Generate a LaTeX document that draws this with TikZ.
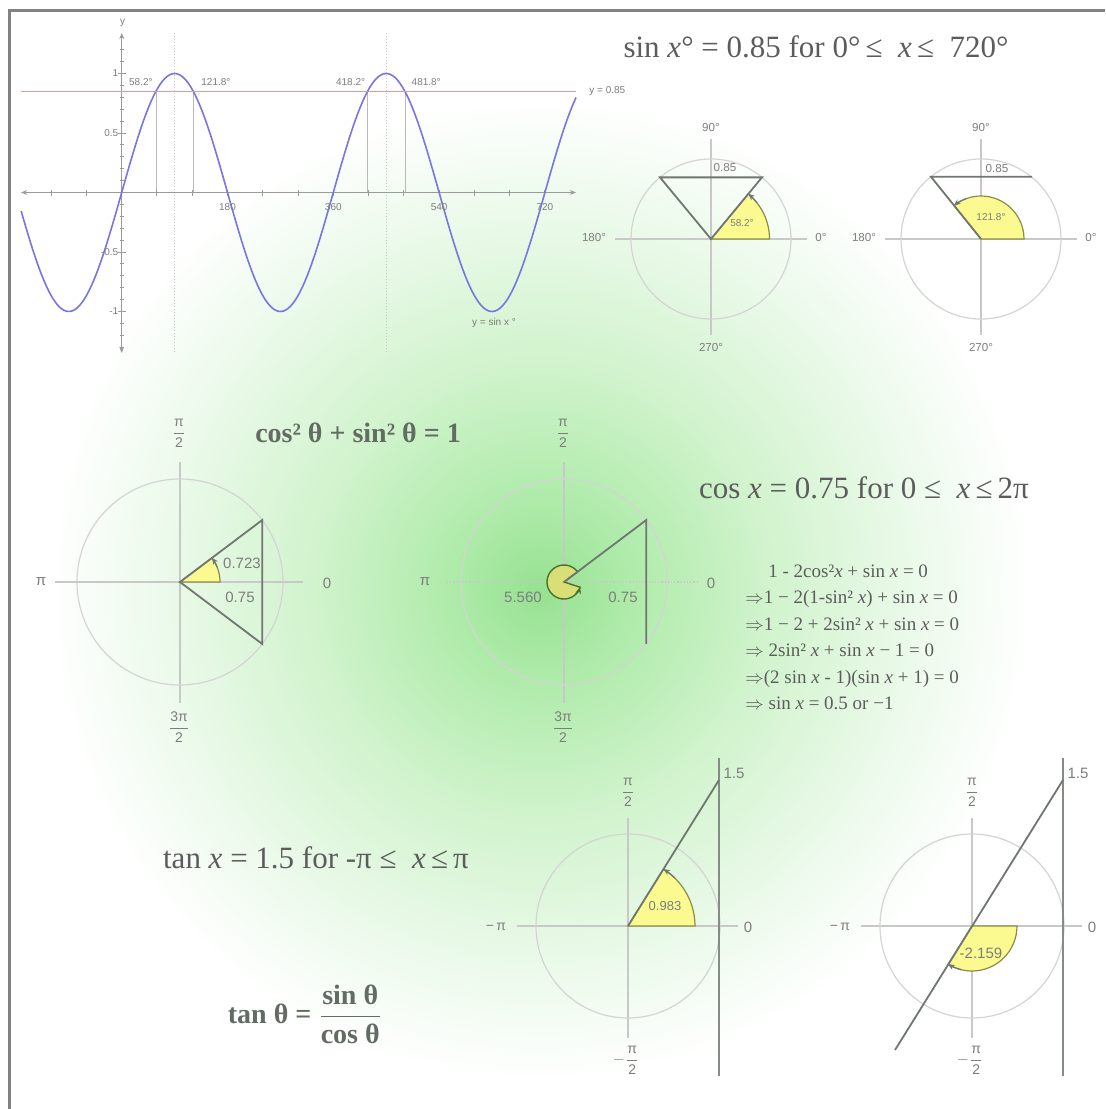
\documentclass[tikz,border=0pt]{standalone}
\usepackage{amsmath}
\usepackage{fontspec}
\setmainfont{Liberation Serif}
\newfontfamily\labelfont{Liberation Sans}
\usetikzlibrary{arrows.meta,calc}

\definecolor{ringgray}{RGB}{212,212,212}
\definecolor{axisgray}{RGB}{200,200,200}
\definecolor{graphgray}{RGB}{155,155,155}
\definecolor{leggray}{RGB}{112,118,112}
\definecolor{labelgray}{RGB}{125,125,125}
\definecolor{sectorfill}{RGB}{250,250,145}
\definecolor{sectoredge}{RGB}{140,140,70}
\definecolor{olivefill}{RGB}{218,222,118}
\definecolor{oliveedge}{RGB}{75,115,40}
\definecolor{sineblue}{RGB}{118,118,228}
\definecolor{linered}{RGB}{236,150,150}
\definecolor{textgray}{RGB}{92,92,92}
\definecolor{boldgray}{RGB}{98,108,98}
\definecolor{framegray}{RGB}{130,130,130}
\definecolor{glowA}{RGB}{150,225,145}
\definecolor{glowB}{RGB}{175,235,170}
\definecolor{glowC}{RGB}{208,243,204}
\definecolor{glowD}{RGB}{236,250,235}

\pgfdeclareradialshading{glow}{\pgfpoint{0bp}{0bp}}{%
  color(0bp)=(glowA); color(4bp)=(glowB); color(10bp)=(glowC);
  color(17bp)=(glowD); color(22bp)=(white); color(50bp)=(white)}

\begin{document}
\begin{tikzpicture}[x=0.5pt, y=0.5pt,
  ring/.style={draw=ringgray, line width=0.6pt},
  ringaxis/.style={draw=axisgray, line width=0.6pt},
  gaxis/.style={draw=graphgray, line width=0.5pt},
  guide/.style={draw=axisgray, line width=0.5pt, densely dotted},
  drop/.style={draw=graphgray!70, line width=0.4pt},
  leg/.style={draw=leggray, line width=0.9pt},
  sector/.style={fill=sectorfill, draw=sectoredge, line width=0.6pt},
  sectortip/.style={-{Stealth[length=3.2pt,width=2.8pt]}, draw=leggray, line width=0.6pt},
  glbl/.style={font=\labelfont\fontsize{5}{6}\selectfont, text=labelgray, inner sep=0pt},
  dlbl/.style={font=\labelfont\fontsize{5.8}{7}\selectfont, text=labelgray, inner sep=0pt},
  slbl/.style={font=\labelfont\fontsize{5}{6}\selectfont, text=labelgray, inner sep=0pt},
  rlbl/.style={font=\labelfont\fontsize{7.5}{9}\selectfont, text=labelgray, inner sep=0pt},
  flbl/.style={font=\labelfont\fontsize{7}{8}\selectfont, text=labelgray, inner sep=0pt},
  bigeq/.style={font=\fontsize{15.5}{18}\selectfont, text=textgray, inner sep=0pt},
  boldeq/.style={font=\bfseries\fontsize{14}{17}\selectfont, text=boldgray, inner sep=0pt},
  stepeq/.style={font=\fontsize{9.5}{13.25}\selectfont, text=textgray, inner sep=0pt, align=left}]

% Canvas and green glow
\useasboundingbox (0,0) rectangle (1105,-1109);
\fill[white] (0,0) rectangle (1105,-1109);
\begin{scope}
  \clip (0,0) rectangle (1105,-1109);
  \shade[shading=glow] (540,-590) circle (560);
\end{scope}
% Frame, top and left edges
\draw[framegray, line width=1.4pt] (9.5,-1109) -- (9.5,-10.5) -- (1105,-10.5);

% Sine graph
\coordinate (O) at (121.7,-192.5);
\begin{scope}[shift={(O)}]
  \foreach \t in {90,450}
    \draw[guide] ({\t*0.5878},159.5) -- ({\t*0.5878},-160.5);
  \foreach \t in {58.2,121.8,418.2,481.8}
    \draw[drop] ({\t*0.5878},0) -- ({\t*0.5878},101.2);
  \draw[gaxis, {Stealth[length=3pt,width=2.4pt]}-{Stealth[length=3pt,width=2.4pt]}] (-100.7,0) -- (454.3,0);
  \draw[gaxis, {Stealth[length=3pt,width=2.4pt]}-{Stealth[length=3pt,width=2.4pt]}] (0,-160.5) -- (0,159.5);
  \foreach \t in {-120,-60,...,720}
    \draw[gaxis] ({\t*0.5878},-3) -- ({\t*0.5878},3);
  \foreach \v in {-13,...,13}
    \draw[gaxis] (-2,{\v*11.9}) -- (2,{\v*11.9});
  \foreach \v in {-10,-5,5,10}
    \draw[gaxis] (-4,{\v*11.9}) -- (4,{\v*11.9});
  \draw[sineblue, line width=0.8pt] plot[domain=-171:773, samples=240, smooth] ({\x*0.5878},{119*sin(\x)});
  \draw[linered, line width=0.7pt] (-100.7,101.2) -- (454.3,101.2);
  % labels
  \node[glbl] (yname) at (1,170) {y};
  \foreach \v/\s/\n in {1/1/a,0.5/0.5/b,-0.5/-0.5/c,-1/-1/d}
    \node[glbl, anchor=east] (ytick\n) at (-3,{\v*119}) {\s};
  \foreach \t in {180,360,540,720}
    \node[glbl] (xtick\t) at ({\t*0.5878},-14.5) {\t};
  \node[glbl, anchor=east] (sol1) at (31.3,110) {58.2°};
  \node[glbl, anchor=west] (sol2) at (79.3,110) {121.8°};
  \node[glbl, anchor=east] (sol3) at (243.8,110) {418.2°};
  \node[glbl, anchor=west] (sol4) at (289.6,110) {481.8°};
  \node[glbl] (curvename) at (372.3,-130.5) {y = sin x °};
  \node[glbl, anchor=west] (linename) at (467.3,101.5) {y = 0.85};
\end{scope}

% Headings and identities
\node[bigeq] (title) at (816,-47) {sin \textit{x}° = 0.85 for 0°\,≤ \ \textit{x}\,≤ \ 720°};
\node[boldeq] (identity) at (358,-433) {cos² θ + sin² θ = 1};
\node[bigeq] (cosline) at (864,-488) {cos \textit{x} = 0.75 for 0 ≤ \ \textit{x}\,≤\,2π};
\node[bigeq] (tanline) at (316,-858) {tan \textit{x} = 1.5 for -π ≤ \ \textit{x}\,≤\,π};
\node[boldeq] (tanratio) at (305,-1014) {tan θ = $\dfrac{\text{\bfseries sin θ}}{\text{\bfseries cos θ}}$};
\node[stepeq, anchor=north west] (steps) at (745,-564) {%
  \hspace*{11.5pt}1 - 2cos²\textit{x} + sin \textit{x} = 0\\
  $\Rightarrow$1 − 2(1-sin² \textit{x}) + sin \textit{x} = 0\\
  $\Rightarrow$1 − 2 + 2sin² \textit{x} + sin \textit{x} = 0\\
  $\Rightarrow$ 2sin² \textit{x} + sin \textit{x} − 1 = 0\\
  $\Rightarrow$(2 sin \textit{x} - 1)(sin \textit{x} + 1) = 0\\
  $\Rightarrow$ sin \textit{x} = 0.5 or −1};

% Degree circles
\coordinate (ca) at (711,-239);
\coordinate (cb) at (981,-239);
\foreach \c in {ca,cb} {
  \draw[ringaxis] ($(\c)+(-96,0)$) -- ($(\c)+(96,0)$);
  \draw[ringaxis] ($(\c)+(0,100)$) -- ($(\c)+(0,-96)$);
  \draw[ring] (\c) circle (80);
  \node[dlbl] (\c-n) at ($(\c)+(0,111)$) {90°};
  \node[dlbl] (\c-s) at ($(\c)+(0,-108)$) {270°};
  \node[dlbl] (\c-w) at ($(\c)+(-117,1)$) {180°};
  \node[dlbl] (\c-e) at ($(\c)+(110,1)$) {0°};
}
\filldraw[sector] (ca) -- ++(58.5,0) arc[start angle=0, end angle=50.4, radius=58.5] -- cycle;
\draw[sectortip] ($(ca)+(38:58.5)$) arc[start angle=38, end angle=50.4, radius=58.5];
\draw[leg] (ca) -- ($(ca)+(50.4:80)$) -- ($(ca)+(129.6:80)$) -- cycle;
\node[dlbl] (ca-h) at ($(ca)+(14,71)$) {0.85};
\node[slbl] (ca-a) at ($(ca)+(31,16)$) {58.2°};
\filldraw[sector] (cb) -- ++(43,0) arc[start angle=0, end angle=128.8, radius=43] -- cycle;
\draw[sectortip] ($(cb)+(110:43)$) arc[start angle=110, end angle=128.8, radius=43];
\draw[leg] (cb) -- ($(cb)+(128.8:80)$) -- ($(cb)+(51,62.3)$);
\node[dlbl] (cb-h) at ($(cb)+(16,70)$) {0.85};
\node[slbl] (cb-a) at ($(cb)+(10,22)$) {121.8°};

% Radian circles, cos x = 0.75
\coordinate (cl) at (180,-582);
\coordinate (cm) at (564,-582);
\foreach \c in {cl,cm} {
  \draw[ringaxis] ($(\c)+(0,120)$) -- ($(\c)+(0,-121)$);
  \draw[ring] (\c) circle (103);
  \node[rlbl] (\c-w) at ($(\c)+(-139,0)$) {π};
  \node[rlbl] (\c-e) at ($(\c)+(147,-1)$) {0};
  \node[flbl] (\c-n) at ($(\c)+(-1,149)$) {$\dfrac{\text{π}}{\text{2}}$};
  \node[flbl] (\c-s) at ($(\c)+(-1,-145)$) {$\dfrac{\text{3π}}{\text{2}}$};
}
\draw[ringaxis] ($(cl)+(-125,0)$) -- ($(cl)+(123,0)$);
\draw[ringaxis, densely dotted, line width=0.8pt] ($(cm)+(-117,0)$) -- ($(cm)+(133,0)$);
% left: both angles
\filldraw[sector] (cl) -- ++(40,0) arc[start angle=0, end angle=37, radius=40] -- cycle;
\draw[sectortip] ($(cl)+(22:40)$) arc[start angle=22, end angle=37, radius=40];
\draw[leg] (cl) -- ($(cl)+(37:103)$) -- ($(cl)+(-37:103)$) -- cycle;
\node[rlbl] (cl-a) at ($(cl)+(62,19)$) {0.723};
\node[rlbl] (cl-c) at ($(cl)+(60,-15)$) {0.75};
% centre: reflex angle
\filldraw[fill=olivefill, draw=oliveedge, line width=0.7pt] (cm) -- ($(cm)+(37:17)$) arc[start angle=37, end angle=342, radius=17] -- cycle;
\draw[-{Stealth[length=3.2pt,width=2.8pt]}, draw=oliveedge, line width=0.7pt] ($(cm)+(315:17)$) arc[start angle=315, end angle=342, radius=17];
\draw[leg] (cm) -- ($(cm)+(37:103)$) -- ($(cm)+(-37:103)$);
\node[rlbl] (cm-a) at ($(cm)+(-41,-15)$) {5.560};
\node[rlbl] (cm-c) at ($(cm)+(59,-15)$) {0.75};

% Radian circles, tan x = 1.5
\coordinate (cn) at (628,-926);
\coordinate (cr) at (972,-926);
\foreach \c in {cn,cr} {
  \draw[ringaxis] ($(\c)+(-111,0)$) -- ($(\c)+(110,0)$);
  \draw[ringaxis] ($(\c)+(0,108)$) -- ($(\c)+(0,-112)$);
  \draw[ring] (\c) circle (92);
  \coordinate (\c-t) at ($(\c)+(91,146)$);
  \draw[leg, draw=leggray!85] ($(\c)+(91,168)$) -- ($(\c)+(91,-150)$);
  \node[rlbl] (\c-v) at ($(\c)+(106,153)$) {1.5};
  \node[flbl] (\c-w) at ($(\c)+(-132,-1)$) {−\,π};
  \node[rlbl] (\c-e) at ($(\c)+(120,-1)$) {0};
  \node[flbl] (\c-n) at ($(\c)+(0,134)$) {$\dfrac{\text{π}}{\text{2}}$};
  \node[flbl] (\c-s) at ($(\c)+(-2,-134)$) {$-\dfrac{\text{π}}{\text{2}}$};
}
\filldraw[sector] (cn) -- ++(67,0) arc[start angle=0, end angle=58, radius=67] -- cycle;
\draw[sectortip] ($(cn)+(46:67)$) arc[start angle=46, end angle=58, radius=67];
\draw[leg] (cn) -- (cn-t);
\node[slbl, font=\labelfont\fontsize{6.5}{8}\selectfont] (cn-a) at ($(cn)+(37,20)$) {0.983};
\filldraw[sector] (cr) -- ++(45,0) arc[start angle=0, end angle=-122, radius=45] -- cycle;
\draw[sectortip] ($(cr)+(-104:45)$) arc[start angle=-104, end angle=-122, radius=45];
\draw[leg] ($(cr)+(-77,-124)$) -- (cr-t);
\node[rlbl] (cr-a) at ($(cr)+(9,-27)$) {-2.159};
\end{tikzpicture}
\end{document}
